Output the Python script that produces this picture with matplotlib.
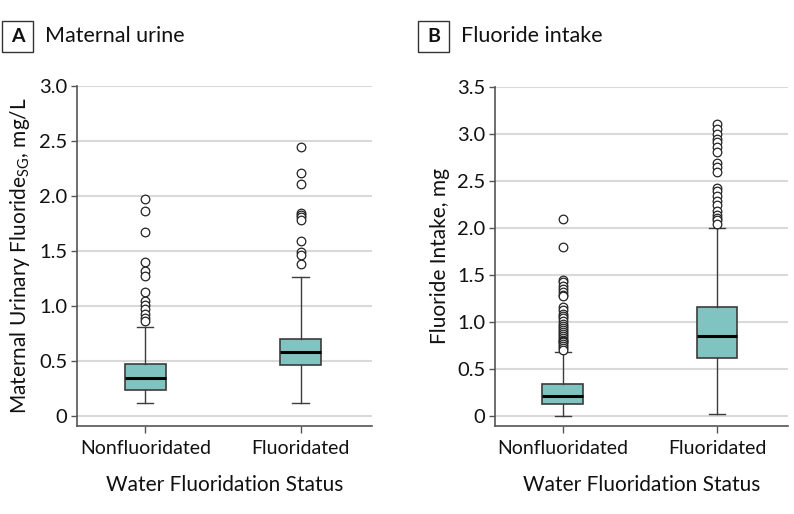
import matplotlib
matplotlib.use("Agg")
import matplotlib.pyplot as plt
from matplotlib.patches import Rectangle
from matplotlib.ticker import FuncFormatter

plt.rcParams['font.family'] = ['Lato', 'DejaVu Sans']
plt.rcParams['mathtext.fontset'] = 'custom'
plt.rcParams['mathtext.rm'] = 'Lato'

categories = ["Nonfluoridated", "Fluoridated"]

# Panel A: maternal urinary fluoride (mg/L)
a_whislo = [0.12, 0.12]
a_q1 = [0.24, 0.46]
a_med = [0.35, 0.58]
a_q3 = [0.47, 0.70]
a_whishi = [0.81, 1.26]
a_fliers_nonfl = [1.97, 1.86, 1.67, 1.40, 1.32, 1.27, 1.13, 1.05, 1.01, 0.97, 0.93, 0.89, 0.86]
a_fliers_fl = [2.45, 2.21, 2.11, 1.85, 1.83, 1.81, 1.78, 1.59, 1.49, 1.46, 1.38]

# Panel B: fluoride intake (mg)
b_whislo = [0.00, 0.02]
b_q1 = [0.12, 0.61]
b_med = [0.21, 0.85]
b_q3 = [0.34, 1.16]
b_whishi = [0.68, 2.00]
b_fliers_nonfl = [2.09, 1.80, 1.45, 1.42, 1.38, 1.35, 1.32, 1.29, 1.27, 1.16, 1.13,
                  1.08, 1.06, 1.04, 1.01, 0.98, 0.95, 0.93, 0.91, 0.89, 0.87, 0.85,
                  0.83, 0.81, 0.80, 0.78, 0.76, 0.74, 0.72, 0.70]
b_fliers_fl = [3.11, 3.05, 3.00, 2.95, 2.91, 2.86, 2.81, 2.69, 2.65, 2.60, 2.42,
               2.39, 2.34, 2.29, 2.24, 2.18, 2.14, 2.11, 2.08, 2.04]

a_yticks = [0, 0.5, 1.0, 1.5, 2.0, 2.5, 3.0]
b_yticks = [0, 0.5, 1.0, 1.5, 2.0, 2.5, 3.0, 3.5]

BOX_COLOR = "#80c4c2"
EDGE = "#3c3c3c"
GRID = "#d9d9d9"
SPINE = "#555555"
TEXT = "#111111"

fig = plt.figure(figsize=(7.94, 5.14), dpi=100)


def make_stats(whislo, q1, med, q3, whishi, fliers_list):
    stats = []
    for i in range(len(categories)):
        stats.append(dict(whislo=whislo[i], q1=q1[i], med=med[i], q3=q3[i],
                          whishi=whishi[i], fliers=fliers_list[i], label=categories[i]))
    return stats


def fmt(v, pos):
    return "0" if abs(v) < 1e-9 else f"{v:.1f}"


def panel(rect, stats, yticks, ylim, ylabel, letter, title, lx, ty):
    ax = fig.add_axes(rect)
    for y in yticks:
        ax.axhline(y, color=GRID, lw=1.5, zorder=0)
    ax.bxp(stats, positions=[0, 1], widths=0.265, patch_artist=True,
           showfliers=True, capwidths=0.105,
           boxprops=dict(facecolor=BOX_COLOR, edgecolor=EDGE, linewidth=1.2),
           medianprops=dict(color="black", linewidth=2.2),
           whiskerprops=dict(color=EDGE, linewidth=1.0),
           capprops=dict(color=EDGE, linewidth=1.0),
           flierprops=dict(marker='o', markerfacecolor='white', markeredgecolor='#222222',
                           markersize=6.2, markeredgewidth=0.9, linestyle='none'))
    ax.set_xlim(-0.44, 1.46)
    ax.set_ylim(*ylim)
    ax.set_yticks(yticks)
    ax.yaxis.set_major_formatter(FuncFormatter(fmt))
    ax.set_xticks([0, 1])
    ax.set_xticklabels(categories)
    for s in ("top", "right"):
        ax.spines[s].set_visible(False)
    for s in ("left", "bottom"):
        ax.spines[s].set_color(SPINE)
        ax.spines[s].set_linewidth(1.2)
    ax.spines["left"].set_bounds(ylim[0], yticks[-1])
    ax.tick_params(axis='y', length=4, width=1.0, color=SPINE, labelsize=14.5, pad=3,
                   labelcolor=TEXT)
    ax.tick_params(axis='x', length=5, width=1.0, color=SPINE, labelsize=14, pad=5,
                   labelcolor=TEXT)
    ax.set_xlabel("Water Fluoridation Status", fontsize=15, labelpad=13, color=TEXT)
    ax.set_ylabel(ylabel, fontsize=15, labelpad=5, color=TEXT)
    # panel letter box and title
    bx0 = lx / 794
    by0 = 1 - 52 / 514
    fig.add_artist(Rectangle((bx0, by0), 31 / 794, 31 / 514, transform=fig.transFigure,
                             facecolor="white", edgecolor="#333333", linewidth=1.0))
    fig.text(bx0 + 15.5 / 794, by0 + 15.5 / 514, letter, ha="center", va="center",
             fontsize=14, fontweight="bold", color=TEXT)
    fig.text(ty / 794, 1 - 36 / 514, title, ha="left", va="center", fontsize=15.5,
             color=TEXT)
    return ax


stats_a = make_stats(a_whislo, a_q1, a_med, a_q3, a_whishi, [a_fliers_nonfl, a_fliers_fl])
stats_b = make_stats(b_whislo, b_q1, b_med, b_q3, b_whishi, [b_fliers_nonfl, b_fliers_fl])

panel([77 / 794, 1 - 426 / 514, 295 / 794, 340 / 514], stats_a, a_yticks, (-0.09, 3.0),
      r"Maternal Urinary Fluoride$_{\mathregular{SG}}$, mg/L", "A", "Maternal urine", 2, 45)
panel([495 / 794, 1 - 426 / 514, 293 / 794, 339 / 514], stats_b, b_yticks, (-0.11, 3.5),
      "Fluoride Intake, mg", "B", "Fluoride intake", 418, 461)

fig.savefig("out.png", dpi=100)
